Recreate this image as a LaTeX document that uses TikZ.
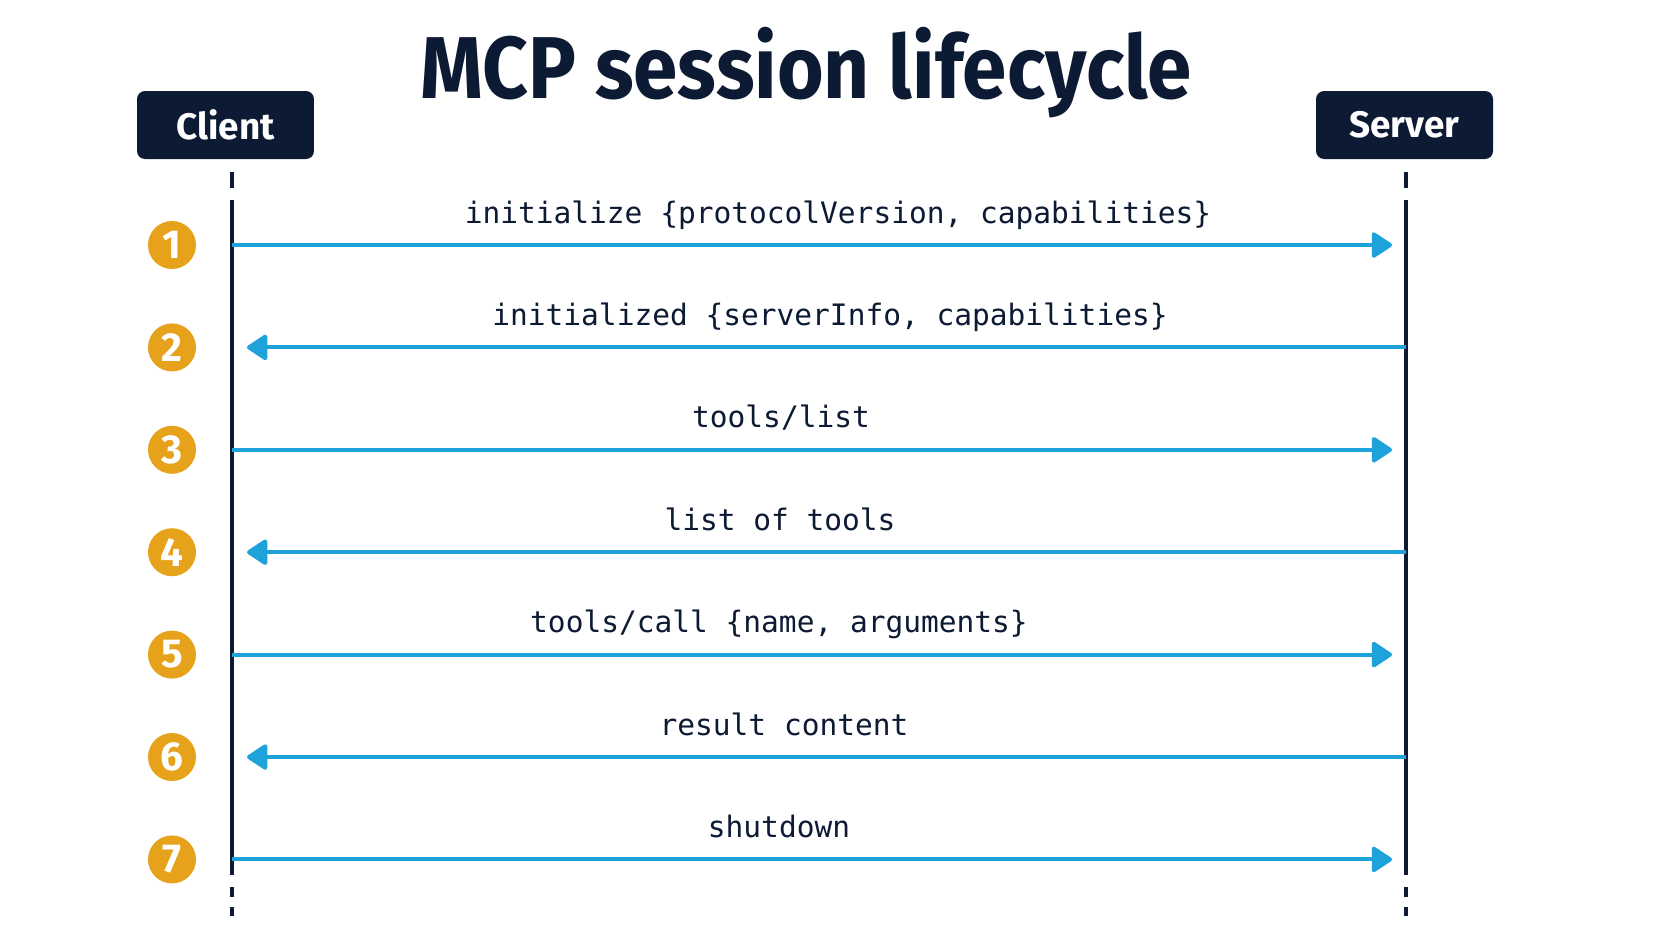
\documentclass[tikz,border=0pt]{standalone}
\usepackage{fontspec}
\setmainfont{Fira Sans}
\setmonofont{DejaVu Sans Mono}
\usetikzlibrary{arrows.meta}

\definecolor{navy}{HTML}{0D1A33}
\definecolor{msgblue}{HTML}{1EA2DA}
\definecolor{steporange}{HTML}{E7A21B}

\def \clientx {232}
\def \serverx {1406}
\def \firstrow {245}
\def \rowgap {102.4}

\begin{document}
\begin{tikzpicture}[x=0.02cm, y=-0.02cm,
  actor/.style={fill=navy, rounded corners=0.16cm, minimum width=3.54cm, minimum height=1.36cm,
    text=white, font=\bfseries\fontsize{21}{24}\selectfont},
  badge/.style={circle, fill=steporange, minimum size=0.96cm, inner sep=0pt,
    text=white, font=\bfseries\fontsize{23}{24}\selectfont},
  msg/.style={draw=msgblue, line width=2.3pt, -{Triangle[length=0.44cm, width=0.56cm, round]}},
  msglabel/.style={anchor=base, text=navy, font=\ttfamily\fontsize{16.8}{18}\selectfont},
  life/.style={draw=navy, line width=2.3pt}]
\useasboundingbox[fill=white] (0,0) rectangle (1672,941);

\node[anchor=base, text=navy, font=\bfseries\fontsize{50}{56}\selectfont] (title) at (806,98) {\scalebox{0.91}[1]{MCP session lifecycle}};

\node[actor] (client) at (225.5,125) {Client};
\node[actor] (server) at (1404.5,125) {Server};

% lifelines
\coordinate (ctop) at (\clientx,200);
\coordinate (cbot) at (\clientx,875);
\coordinate (stop) at (\serverx,200);
\coordinate (sbot) at (\serverx,875);
\draw[life] (ctop) -- (cbot);
\draw[life] (stop) -- (sbot);
\draw[life] (\clientx,172) -- (\clientx,188); % top dash
\draw[life] (\serverx,172) -- (\serverx,188);
\draw[life] (\clientx,887) -- (\clientx,897); % bottom dashes
\draw[life] (\clientx,907) -- (\clientx,916);
\draw[life] (\serverx,887) -- (\serverx,897);
\draw[life] (\serverx,907) -- (\serverx,916);

% step 1
\coordinate (c1) at (\clientx,\firstrow);
\coordinate (s1) at (\serverx,\firstrow);
\node[badge] (b1) at (172,\firstrow) {1};
\draw[msg, shorten >=0.28cm] (c1) -- (s1);
\node[msglabel] (l1) at (838,\firstrow-22) {initialize \{protocolVersion, capabilities\}};

% step 2
\coordinate (c2) at (\clientx,\firstrow+\rowgap);
\coordinate (s2) at (\serverx,\firstrow+\rowgap);
\node[badge] (b2) at (172,\firstrow+\rowgap) {2};
\draw[msg, shorten >=0.3cm] (s2) -- (c2);
\node[msglabel] (l2) at (830,\firstrow+\rowgap-22) {initialized \{serverInfo, capabilities\}};

% step 3
\coordinate (c3) at (\clientx,\firstrow+2*\rowgap);
\coordinate (s3) at (\serverx,\firstrow+2*\rowgap);
\node[badge] (b3) at (172,\firstrow+2*\rowgap) {3};
\draw[msg, shorten >=0.28cm] (c3) -- (s3);
\node[msglabel] (l3) at (781,\firstrow+2*\rowgap-22) {tools/list};

% step 4
\coordinate (c4) at (\clientx,\firstrow+3*\rowgap);
\coordinate (s4) at (\serverx,\firstrow+3*\rowgap);
\node[badge] (b4) at (172,\firstrow+3*\rowgap) {4};
\draw[msg, shorten >=0.3cm] (s4) -- (c4);
\node[msglabel] (l4) at (780,\firstrow+3*\rowgap-22) {list of tools};

% step 5
\coordinate (c5) at (\clientx,\firstrow+4*\rowgap);
\coordinate (s5) at (\serverx,\firstrow+4*\rowgap);
\node[badge] (b5) at (172,\firstrow+4*\rowgap) {5};
\draw[msg, shorten >=0.28cm] (c5) -- (s5);
\node[msglabel] (l5) at (779,\firstrow+4*\rowgap-22) {tools/call \{name, arguments\}};

% step 6
\coordinate (c6) at (\clientx,\firstrow+5*\rowgap);
\coordinate (s6) at (\serverx,\firstrow+5*\rowgap);
\node[badge] (b6) at (172,\firstrow+5*\rowgap) {6};
\draw[msg, shorten >=0.3cm] (s6) -- (c6);
\node[msglabel] (l6) at (784,\firstrow+5*\rowgap-22) {result content};

% step 7
\coordinate (c7) at (\clientx,\firstrow+6*\rowgap);
\coordinate (s7) at (\serverx,\firstrow+6*\rowgap);
\node[badge] (b7) at (172,\firstrow+6*\rowgap) {7};
\draw[msg, shorten >=0.28cm] (c7) -- (s7);
\node[msglabel] (l7) at (779,\firstrow+6*\rowgap-22) {shutdown};
\end{tikzpicture}
\end{document}
